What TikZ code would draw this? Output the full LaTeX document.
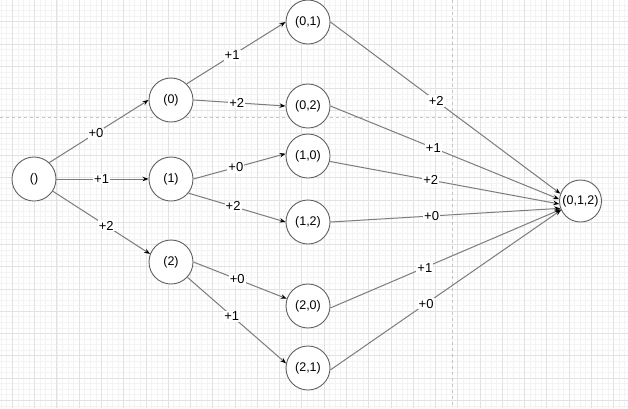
\documentclass[tikz,border=0pt]{standalone}
\usepackage{fontspec}
\setmainfont{Liberation Sans}
\usetikzlibrary{arrows.meta}
\definecolor{gridminor}{HTML}{F3F3F3}
\definecolor{gridmajor}{HTML}{E2E2E2}
\definecolor{pageline}{HTML}{C4C4C4}
\definecolor{edgegray}{HTML}{7C7C7C}
\begin{document}
\begin{tikzpicture}[x=1pt,y=-1pt,
	state/.style={circle,draw=black!62,line width=0.9pt,fill=white,minimum size=44pt,inner sep=0pt,font=\fontsize{12.5}{14}\selectfont},
	move/.style={draw=edgegray,line width=1pt,-{Stealth[length=6pt,width=4.5pt,black]}},
	cost/.style={fill=white,inner sep=1pt,font=\fontsize{13}{15}\selectfont}]
	% background grid
	\fill[white] (0,0) rectangle (628,408);
	\useasboundingbox (0,0) rectangle (628,408);
	\foreach \i in {-2,...,111} \draw[gridminor,line width=0.6pt] ({12.3+5.567*\i},0) -- ({12.3+5.567*\i},408);
	\foreach \i in {-3,...,69} \draw[gridminor,line width=0.6pt] (0,{21.7+5.567*\i}) -- (628,{21.7+5.567*\i});
	\foreach \i in {0,...,27} \draw[gridmajor,line width=0.7pt] ({12.3+22.27*\i},0) -- ({12.3+22.27*\i},408);
	\foreach \i in {0,...,17} \draw[gridmajor,line width=0.7pt] (0,{21.7+22.27*\i}) -- (628,{21.7+22.27*\i});
	\draw[pageline,dashed,line width=0.7pt] (452,0) -- (452,408);
	\draw[pageline,dashed,line width=0.7pt] (0,117) -- (628,117);
	% states
	\node[state] (e) at (34,179) {()};
	\node[state] (s0) at (171,100) {(0)};
	\node[state] (s1) at (171,179) {(1)};
	\node[state] (s2) at (171,262) {(2)};
	\node[state] (s01) at (308,22) {(0,1)};
	\node[state] (s02) at (308,106) {(0,2)};
	\node[state] (s10) at (308,156) {(1,0)};
	\node[state] (s12) at (308,222) {(1,2)};
	\node[state] (s20) at (308,306) {(2,0)};
	\node[state] (s21) at (308,368) {(2,1)};
	\node[state,minimum size=42pt] (s012) at (580.5,201) {(0,1,2)};
	% moves
	\draw[move] (e.47) -- node[cost,pos=0.47]{+0} (s0.west);
	\draw[move] (e.east) -- node[cost,pos=0.49]{+1} (s1.west);
	\draw[move] (e.-33) -- node[cost,pos=0.55]{+2} (s2.159);
	\draw[move] (s0.46) -- node[cost,pos=0.46]{+1} (s01.west);
	\draw[move] (s0.east) -- node[cost,pos=0.47]{+2} (s02.west);
	\draw[move] (s1.east) -- node[cost,pos=0.46]{+0} (s10.174);
	\draw[move] (s1.-39) -- node[cost,pos=0.46]{+2} (s12.west);
	\draw[move] (s2.east) -- node[cost,pos=0.47]{+0} (s20.161);
	\draw[move] (s2.-43) -- node[cost,pos=0.45]{+1} (s21.168);
	\draw[move] (s01.east) -- node[cost,pos=0.46]{+2} (s012.160);
	\draw[move] (s02.east) -- node[cost,pos=0.45]{+1} (s012.175);
	\draw[move] (s10.-14) -- node[cost,pos=0.44]{+2} (s012.188);
	\draw[move] (s12.east) -- node[cost,pos=0.44]{+0} (s012.200);
	\draw[move] (s20.-5) -- node[cost,pos=0.41]{+1} (s012.203);
	\draw[move] (s21.-5) -- node[cost,pos=0.415]{+0} (s012.205);
\end{tikzpicture}
\end{document}
